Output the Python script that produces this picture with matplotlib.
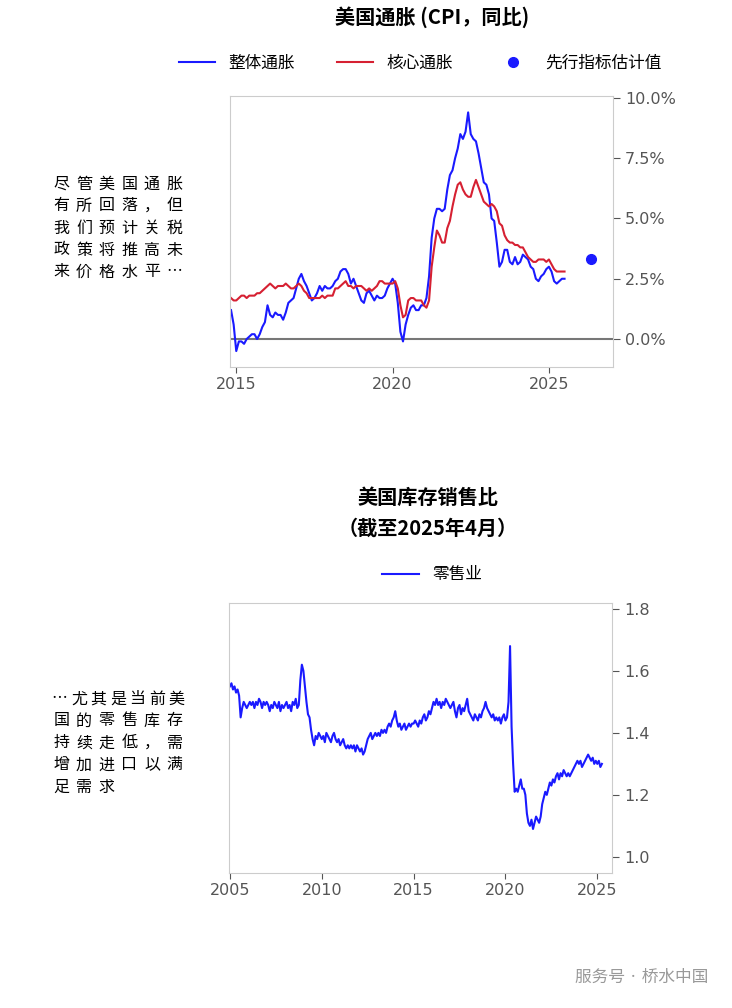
import matplotlib
matplotlib.use("Agg")
import matplotlib.pyplot as plt
from matplotlib import font_manager as fm
import numpy as np

cjk = [f.name for f in fm.fontManager.ttflist if 'CJK' in f.name]
fams = [n for n in ['Noto Sans CJK SC', 'Noto Sans CJK JP', 'Noto Sans CJK TC', 'Noto Sans CJK KR'] if n in cjk] + sorted(set(cjk))
CJKF = fams[0] if fams else 'DejaVu Sans'
plt.rcParams['font.family'] = [CJKF, 'DejaVu Sans']

cpi_start = 2014 + 10/12
headline = [1.2,0.6,-0.5,-0.1,-0.1,-0.2,0.0,0.1,0.2,0.2,0.0,0.2,0.5,0.7,
 1.4,1.0,0.9,1.1,1.0,1.0,0.8,1.1,1.5,1.6,1.7,2.1,
 2.5,2.7,2.4,2.2,1.9,1.6,1.7,1.9,2.2,2.0,2.2,2.1,
 2.1,2.2,2.4,2.5,2.8,2.9,2.9,2.7,2.3,2.5,2.2,1.9,
 1.6,1.5,1.9,2.0,1.8,1.6,1.8,1.7,1.7,1.8,2.1,2.3,
 2.5,2.3,1.5,0.3,-0.1,0.6,1.0,1.3,1.4,1.2,1.2,1.4,
 1.4,1.7,2.6,4.2,5.0,5.4,5.4,5.3,5.4,6.2,6.8,7.0,
 7.5,7.9,8.5,8.3,8.6,9.4,8.5,8.3,8.2,7.7,7.1,6.5,
 6.4,6.0,5.0,4.9,4.0,3.0,3.2,3.7,3.7,3.2,3.1,3.4,
 3.1,3.2,3.5,3.4,3.3,3.0,2.9,2.5,2.4,2.6,2.7,2.9,
 3.0,2.8,2.4,2.3,2.4,2.5,2.5]
core = [1.7,1.6,1.6,1.7,1.8,1.8,1.7,1.8,1.8,1.8,1.9,1.9,2.0,2.1,
 2.2,2.3,2.2,2.1,2.2,2.2,2.2,2.3,2.2,2.1,2.1,2.2,
 2.3,2.2,2.0,1.9,1.7,1.7,1.7,1.7,1.7,1.8,1.7,1.8,
 1.8,1.8,2.1,2.1,2.2,2.3,2.4,2.2,2.2,2.1,2.2,2.2,
 2.2,2.1,2.0,2.1,2.0,2.1,2.2,2.4,2.4,2.3,2.3,2.3,
 2.3,2.4,2.1,1.4,0.9,1.0,1.6,1.7,1.7,1.6,1.6,1.6,
 1.4,1.3,1.6,3.0,3.8,4.5,4.3,4.0,4.0,4.6,4.9,5.5,
 6.0,6.4,6.5,6.2,6.0,5.9,5.9,6.3,6.6,6.3,6.0,5.7,
 5.6,5.5,5.6,5.5,5.3,4.8,4.7,4.3,4.1,4.0,4.0,3.9,
 3.9,3.8,3.8,3.6,3.4,3.3,3.2,3.2,3.3,3.3,3.3,3.2,
 3.3,3.1,2.9,2.8,2.8,2.8,2.8]
leading_x = [2026.35]
leading_y = [3.32]

inv_start = 2005.0
inventory = [1.55,1.56,1.54,1.55,1.53,1.54,1.52,1.45,1.48,1.50,1.49,1.48,
 1.49,1.50,1.49,1.50,1.48,1.50,1.49,1.51,1.50,1.48,1.50,1.49,
 1.50,1.49,1.47,1.49,1.48,1.50,1.49,1.48,1.50,1.47,1.49,1.48,
 1.49,1.50,1.48,1.49,1.47,1.50,1.49,1.51,1.48,1.49,1.57,1.62,
 1.60,1.55,1.50,1.46,1.45,1.41,1.38,1.36,1.39,1.38,1.40,1.39,
 1.38,1.39,1.37,1.40,1.39,1.38,1.37,1.39,1.40,1.38,1.37,1.38,
 1.36,1.37,1.38,1.36,1.35,1.36,1.35,1.36,1.35,1.36,1.34,1.36,
 1.35,1.34,1.35,1.33,1.34,1.36,1.38,1.39,1.40,1.38,1.39,1.40,
 1.39,1.40,1.39,1.41,1.40,1.41,1.40,1.42,1.43,1.42,1.44,1.45,
 1.47,1.44,1.42,1.43,1.41,1.42,1.43,1.41,1.42,1.43,1.42,1.43,
 1.43,1.44,1.43,1.42,1.44,1.43,1.45,1.46,1.44,1.45,1.47,1.46,
 1.48,1.50,1.49,1.51,1.49,1.50,1.48,1.50,1.49,1.51,1.50,1.49,
 1.48,1.49,1.50,1.47,1.45,1.48,1.49,1.46,1.48,1.47,1.49,1.51,
 1.47,1.46,1.45,1.44,1.46,1.45,1.44,1.46,1.45,1.47,1.48,1.50,
 1.48,1.47,1.46,1.45,1.46,1.44,1.45,1.44,1.45,1.43,1.45,1.46,
 1.44,1.45,1.50,1.68,1.42,1.30,1.21,1.22,1.21,1.23,1.25,1.22,
 1.22,1.20,1.14,1.11,1.10,1.12,1.09,1.11,1.13,1.12,1.11,1.13,
 1.17,1.19,1.21,1.20,1.22,1.24,1.23,1.25,1.24,1.26,1.27,1.25,
 1.27,1.26,1.28,1.27,1.26,1.27,1.26,1.27,1.28,1.29,1.30,1.31,
 1.30,1.31,1.29,1.30,1.31,1.32,1.33,1.32,1.31,1.32,1.30,1.31,
 1.30,1.31,1.29,1.30]

text1 = ["尽管美国通胀", "有所回落，但", "我们预计关税", "政策将推高未", "来价格水平…"]
text2 = ["…尤其是当前美", "国的零售库存", "持续走低，需", "增加进口以满", "足需求"]

BLUE = "#1a1aff"
RED = "#d62032"
TICK = "#555555"
FRAME = "#cccccc"

fig = plt.figure(figsize=(7.32, 10.08), dpi=100)
W, H = 732, 1008
def ax_rect(l, t, r, b):
    return [l/W, 1-b/H, (r-l)/W, (b-t)/H]

def style(ax):
    for s in ax.spines.values():
        s.set_color(FRAME)
    ax.yaxis.tick_right()
    ax.tick_params(colors=TICK, labelsize=11.5, length=4, width=0.8)
    ax.tick_params(axis='y', length=5)
    for lab in ax.get_xticklabels() + ax.get_yticklabels():
        lab.set_color(TICK)
        lab.set_fontfamily('DejaVu Sans')

ax1 = fig.add_axes(ax_rect(230, 96, 613, 367))
x_h = cpi_start + np.arange(len(headline))/12
x_c = cpi_start + np.arange(len(core))/12
ax1.axhline(0, color="#777777", lw=1.5)
ax1.plot(x_h, headline, color=BLUE, lw=1.5, label="整体通胀")
ax1.plot(x_c, core, color=RED, lw=1.5, label="核心通胀")
ax1.plot(leading_x, leading_y, 'o', color=BLUE, ms=7, label="先行指标估计值")
ax1.set_xlim(2014.8, 2027.05)
ax1.set_ylim(-1.16, 10.08)
ax1.set_xticks([2015, 2020, 2025])
ax1.set_yticks([0, 2.5, 5, 7.5, 10])
ax1.set_yticklabels(["0.0%", "2.5%", "5.0%", "7.5%", "10.0%"])
style(ax1)
fig.text(432/W, 1-17/H, "美国通胀 (CPI，同比)", ha='center', va='center', fontsize=14.5, fontweight='bold')
fig.legend(*ax1.get_legend_handles_labels(), loc='center', bbox_to_anchor=(420/W, 1-63/H),
           ncol=3, frameon=False, fontsize=12, handlelength=2.2, columnspacing=2.5)

ax2 = fig.add_axes(ax_rect(229, 603, 612, 873))
x_i = inv_start + np.arange(len(inventory))/12
ax2.plot(x_i, inventory, color=BLUE, lw=1.5, label="零售业")
ax2.set_xlim(2004.95, 2025.8)
ax2.set_ylim(0.948, 1.819)
ax2.set_xticks([2005, 2010, 2015, 2020, 2025])
ax2.set_yticks([1.0, 1.2, 1.4, 1.6, 1.8])
ax2.set_yticklabels(["1.0", "1.2", "1.4", "1.6", "1.8"])
style(ax2)
fig.text(428/W, 1-497/H, "美国库存销售比", ha='center', va='center', fontsize=14.5, fontweight='bold')
fig.text(428/W, 1-528/H, "（截至2025年4月）", ha='center', va='center', fontsize=14.5, fontweight='bold')
fig.legend(*ax2.get_legend_handles_labels(), loc='center', bbox_to_anchor=(432/W, 1-575/H),
           frameon=False, fontsize=12, handlelength=2.2)

def spaced(lines, y0, x0=50, x1=186):
    for i, t in enumerate(lines):
        y = 1-(y0+22*i)/H
        n = max(len(t), 6)
        cell = (x1-x0)/n
        for j, ch in enumerate(t):
            fig.text((x0+cell*(j+0.5))/W, y, ch, ha='center', va='center', fontsize=11.5)

spaced(text1, 184)
spaced(text2, 699)

fig.text(708/W, 1-977/H, "服务号 · 桥水中国", ha='right', va='center', fontsize=12, color="#999999")

fig.savefig("out.png", dpi=100)
